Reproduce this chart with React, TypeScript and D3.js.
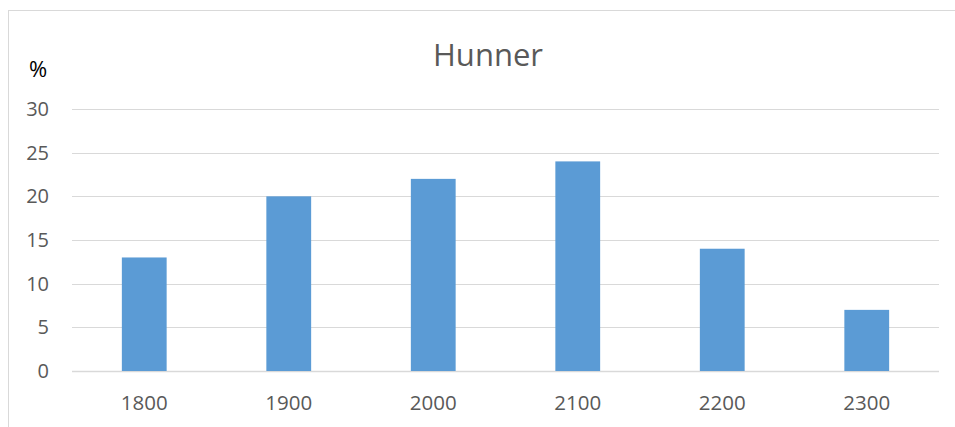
import React, { useEffect, useRef } from 'react';
import * as d3 from 'd3';

const categories = ['1800', '1900', '2000', '2100', '2200', '2300'];
const values = [13, 20, 22, 24, 14, 7];
const yTicks = [0, 5, 10, 15, 20, 25, 30];
const title = 'Hunner';
const unit = '%';

const App = () => {
  const ref = useRef<SVGSVGElement>(null);

  useEffect(() => {
    const width = 955;
    const height = 427;
    const font = '"Open Sans", sans-serif';
    const svg = d3.select(ref.current);
    svg.selectAll('*').remove();

    // outer chart border, cut off at right and bottom
    svg.append('rect')
      .attr('x', 8.5).attr('y', 10.5)
      .attr('width', width).attr('height', height)
      .attr('fill', '#fff').attr('stroke', '#d9d9d9');

    const left = 72, right = 939, top = 109, bottom = 371;

    const x = d3.scaleBand().domain(categories).range([left, right]).paddingInner(0.69).paddingOuter(0.345);
    const y = d3.scaleLinear().domain([0, 30]).range([bottom, top]);

    svg.append('g').selectAll('line').data(yTicks).enter().append('line')
      .attr('x1', left).attr('x2', right)
      .attr('y1', d => Math.round(y(d)) + 0.5).attr('y2', d => Math.round(y(d)) + 0.5)
      .attr('stroke', '#d9d9d9').attr('stroke-width', d => (d === 0 ? 1.5 : 1));

    svg.append('g').selectAll('text').data(yTicks).enter().append('text')
      .attr('x', 49).attr('y', d => y(d)).attr('dy', '0.35em')
      .attr('text-anchor', 'end')
      .style('font-family', font).style('font-size', '20px').style('fill', '#595959')
      .text(d => d);

    svg.append('g').selectAll('rect').data(values).enter().append('rect')
      .attr('x', (d, i) => x(categories[i])!)
      .attr('width', x.bandwidth())
      .attr('y', d => y(d))
      .attr('height', d => y(0) - y(d))
      .attr('fill', '#5b9bd5');

    svg.append('g').selectAll('text').data(categories).enter().append('text')
      .attr('x', d => x(d)! + x.bandwidth() / 2).attr('y', 410)
      .attr('text-anchor', 'middle')
      .style('font-family', font).style('font-size', '20.5px').style('fill', '#595959')
      .text(d => d);

    svg.append('text')
      .attr('x', 488).attr('y', 66)
      .attr('text-anchor', 'middle')
      .style('font-family', font).style('font-size', '31px').style('fill', '#595959')
      .text(title);

    svg.append('text')
      .attr('x', 38).attr('y', 77)
      .attr('text-anchor', 'middle')
      .style('font-family', font).style('font-size', '22px').style('fill', '#000')
      .text(unit);
  }, []);

  return (
    <svg ref={ref} width={955} height={427}
      style={{ position: 'absolute', left: 0, top: 0, background: '#fff' }} />
  );
};

export default App;
